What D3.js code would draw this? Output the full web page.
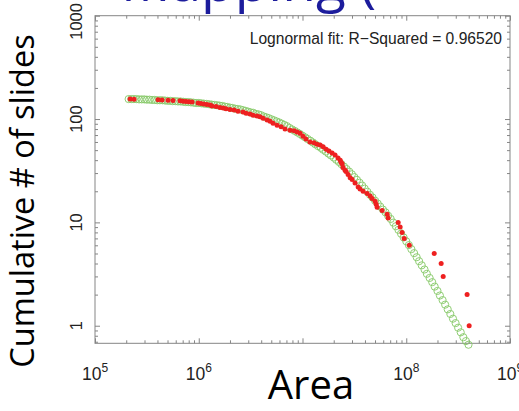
<!DOCTYPE html>
<html>
<head>
<meta charset="utf-8">
<script src="https://cdn.jsdelivr.net/npm/d3@7"></script>
<style>
  body { margin: 0; background: #fff; }
  svg { display: block; }
</style>
</head>
<body>
<script>
// red dots: observed slide areas and cumulative count
const slideArea = [
  2.18e5, 2.38e5, 4.05e5, 4.43e5, 5.06e5, 5.65e5, 6.60e5, 7.06e5, 7.54e5, 8.06e5,
  8.62e5, 9.85e5, 1.05e6, 1.12e6, 1.20e6, 1.29e6, 1.34e6, 1.47e6, 1.60e6, 1.72e6,
  1.83e6, 2.00e6, 2.19e6, 2.39e6, 2.67e6, 2.86e6, 3.12e6, 3.34e6, 3.65e6, 3.90e6,
  4.17e6, 4.56e6, 4.87e6, 5.20e6, 5.69e6, 6.22e6, 6.79e6, 7.59e6, 8.30e6, 8.87e6,
  9.48e6, 1.01e7, 1.08e7, 1.18e7, 1.29e7, 1.38e7, 1.48e7, 1.58e7, 1.69e7, 1.80e7,
  1.93e7, 2.06e7, 2.20e7, 2.31e7, 2.36e7, 2.41e7, 2.46e7, 2.57e7, 2.63e7, 2.75e7,
  2.88e7, 3.01e7, 3.21e7, 3.44e7, 3.59e7, 3.84e7, 4.20e7, 4.49e7, 4.69e7, 5.01e7,
  5.13e7, 5.24e7, 5.86e7, 6.55e7, 6.69e7, 8.36e7, 8.73e7, 9.12e7, 9.55e7, 1.07e8,
  1.86e8, 2.17e8, 2.27e8, 3.86e8, 4.04e8
];
const slideCount = [
  156, 155, 154, 153, 152, 151, 150, 149, 148, 147,
  146, 143, 141, 140, 138, 137, 134, 132, 129, 128,
  126, 124, 122, 119, 117, 114, 112, 109, 107, 105,
  102, 98, 95, 91, 87, 84, 80, 78, 77, 75,
  73, 68, 64, 60, 59, 57, 56, 54, 51, 49,
  47, 45, 42, 40, 38, 37, 34, 32, 31, 29,
  27, 26, 24, 22, 21, 20, 19, 18, 17, 16,
  15, 14, 13, 12, 11, 10, 9, 8, 7, 6,
  5, 4, 3, 2, 1
];

// green circles: lognormal fit
const fitArea = [
  2.11e5, 2.24e5, 2.37e5, 2.51e5, 2.66e5, 2.82e5, 2.99e5, 3.16e5, 3.35e5, 3.55e5,
  3.76e5, 3.98e5, 4.22e5, 4.47e5, 4.73e5, 5.01e5, 5.31e5, 5.62e5, 5.96e5, 6.31e5,
  6.68e5, 7.08e5, 7.50e5, 7.94e5, 8.41e5, 8.91e5, 9.44e5,
  1.00e6, 1.06e6, 1.12e6, 1.19e6, 1.26e6, 1.33e6, 1.41e6, 1.50e6, 1.58e6, 1.68e6,
  1.78e6, 1.88e6, 2.00e6, 2.11e6, 2.24e6, 2.37e6, 2.51e6, 2.66e6, 2.82e6, 2.99e6,
  3.16e6, 3.35e6, 3.55e6, 3.76e6, 3.98e6, 4.22e6, 4.47e6, 4.73e6, 5.01e6, 5.31e6,
  5.62e6, 5.96e6, 6.31e6, 6.68e6, 7.08e6, 7.50e6, 7.94e6, 8.41e6, 8.91e6, 9.44e6,
  1.00e7, 1.06e7, 1.12e7, 1.19e7, 1.26e7, 1.33e7, 1.41e7, 1.50e7, 1.58e7, 1.68e7,
  1.78e7, 1.88e7, 2.00e7, 2.11e7, 2.24e7, 2.37e7, 2.51e7, 2.66e7, 2.82e7, 2.99e7,
  3.16e7, 3.35e7, 3.55e7, 3.76e7, 3.98e7, 4.22e7, 4.47e7, 4.73e7, 5.01e7, 5.31e7,
  5.62e7, 5.96e7, 6.31e7, 6.68e7, 7.08e7, 7.50e7, 7.94e7, 8.41e7, 8.91e7, 9.44e7,
  1.00e8, 1.06e8, 1.12e8, 1.19e8, 1.26e8, 1.33e8, 1.41e8, 1.50e8, 1.58e8, 1.68e8,
  1.78e8, 1.88e8, 2.00e8, 2.11e8, 2.24e8, 2.37e8, 2.51e8, 2.66e8, 2.82e8, 2.99e8,
  3.16e8, 3.35e8, 3.55e8, 3.76e8, 3.98e8
];
const fitCount = [
  156, 156, 156, 156, 155, 155, 155, 154, 154, 153,
  153, 152, 152, 152, 151, 150, 150, 149, 149, 148,
  148, 147, 146, 146, 145, 144, 143,
  143, 142, 141, 140, 139, 138, 137, 136, 135, 134,
  132, 131, 129, 128, 126, 125, 124, 122, 120, 118,
  116, 115, 112, 111, 109, 106, 104, 102, 99.5, 97.2,
  94.9, 92.7, 90.2, 87.7, 85.3, 82.0, 79.3, 76.8, 74.2, 71.7,
  69.0, 66.5, 64.1, 61.7, 59.3, 57.0, 54.8, 52.7, 50.5, 48.4,
  46.3, 44.4, 42.4, 40.4, 38.5, 36.6, 34.7, 32.8, 31.0, 29.2,
  27.4, 25.8, 24.2, 22.7, 21.2, 19.8, 18.5, 17.4, 16.2, 15.2,
  14.2, 13.3, 12.5, 11.6, 10.8, 9.95, 9.18, 8.47, 7.78, 7.14,
  6.56, 6.03, 5.51, 5.04, 4.60, 4.21, 3.84, 3.50, 3.18, 2.90,
  2.64, 2.39, 2.17, 1.96, 1.77, 1.60, 1.44, 1.30, 1.17, 1.06,
  0.957, 0.863, 0.774, 0.71, 0.655
];

const xTicks = [1e5, 1e6, 1e7, 1e8, 1e9];
const xTickLabels = [['10', '5'], ['10', '6'], null, ['10', '8'], ['10', '9']]; // 10^7 sits under "Area"
const yTicks = [1, 10, 100, 1000];
const yTickLabels = ['1', '10', '100', '1000'];

const fitNote = 'Lognormal fit: R\u2212Squared = 0.96520';

const WIDTH = 519,
      HEIGHT = 411,
      LEFT = 95,
      RIGHT = 510,
      TOP = 15.7,
      BOTTOM = 343.3,
      AXIS_GRAY = '#858585';

const svg = d3.select('body').append('svg')
    .attr('width', WIDTH)
    .attr('height', HEIGHT);

const x = d3.scaleLog().domain([1e5, 1e9]).range([LEFT, RIGHT]);
const y = d3.scaleLog().domain([0.676, 1000]).range([BOTTOM, TOP]);

const isMajor = v => Math.abs(Math.log10(v) - Math.round(Math.log10(v))) < 1e-9;
const xMinor = x.ticks().filter(v => !isMajor(v));
const yMinor = y.ticks().filter(v => !isMajor(v));

// slide title, mostly cut off by the top of the window
svg.append('text')
    .attr('x', 121)
    .attr('y', 1)
    .attr('font-family', 'Open Sans, sans-serif')
    .attr('font-size', 55)
    .attr('fill', '#1c1c9c')
    .text('Mapping (');

// ticks on all four sides, pointing in
function tickSide(axis, tx, ty, values, size) {
    const g = svg.append('g')
        .attr('transform', `translate(${tx},${ty})`)
        .call(axis.tickValues(values).tickSize(-size).tickFormat(''));
    g.select('.domain').remove();
    g.selectAll('line').attr('stroke', AXIS_GRAY);
}
tickSide(d3.axisBottom(x), 0, BOTTOM, xTicks, 5);
tickSide(d3.axisBottom(x), 0, BOTTOM, xMinor, 3);
tickSide(d3.axisTop(x), 0, TOP, xTicks, 5);
tickSide(d3.axisTop(x), 0, TOP, xMinor, 3);
tickSide(d3.axisLeft(y), LEFT, 0, yTicks, 5);
tickSide(d3.axisLeft(y), LEFT, 0, yMinor, 3);
tickSide(d3.axisRight(y), RIGHT, 0, yTicks, 5);
tickSide(d3.axisRight(y), RIGHT, 0, yMinor, 3);

svg.append('rect')
    .attr('x', LEFT)
    .attr('y', TOP)
    .attr('width', RIGHT - LEFT)
    .attr('height', BOTTOM - TOP)
    .attr('fill', 'none')
    .attr('stroke', AXIS_GRAY)
    .attr('stroke-width', 1);

// fit curve
svg.append('g')
    .selectAll('circle')
    .data(fitArea)
    .enter()
    .append('circle')
    .attr('cx', d => x(d))
    .attr('cy', (d, i) => y(fitCount[i]))
    .attr('r', 3.6)
    .attr('fill', 'none')
    .attr('stroke', '#86c868')
    .attr('stroke-width', 0.9);

// data
svg.append('g')
    .selectAll('circle')
    .data(slideArea)
    .enter()
    .append('circle')
    .attr('cx', d => x(d))
    .attr('cy', (d, i) => y(slideCount[i]))
    .attr('r', 2.5)
    .attr('fill', '#ee2020');

// y tick labels, rotated
svg.append('g')
    .selectAll('text')
    .data(yTicks)
    .enter()
    .append('text')
    .attr('transform', (d, i) => {
        const half = yTickLabels[i].length * 4.6;
        const cy = Math.max(y(d), 3 + half);
        return `translate(82,${cy}) rotate(-90)`;
    })
    .attr('text-anchor', 'middle')
    .attr('font-family', 'Liberation Sans, Arial, sans-serif')
    .attr('font-size', 16.5)
    .attr('fill', '#222')
    .text((d, i) => yTickLabels[i]);

// x tick labels as 10^n
const xl = svg.append('g')
    .selectAll('text')
    .data(xTicks.filter((d, i) => xTickLabels[i]))
    .enter()
    .append('text')
    .attr('x', d => x(d))
    .attr('y', 380)
    .attr('text-anchor', 'middle')
    .attr('font-family', 'Liberation Sans, Arial, sans-serif')
    .attr('font-size', 17.5)
    .attr('fill', '#222');
xl.append('tspan').text(d => xTickLabels[xTicks.indexOf(d)][0]);
xl.append('tspan')
    .attr('dy', -8)
    .attr('font-size', 12)
    .text(d => xTickLabels[xTicks.indexOf(d)][1]);

svg.append('text')
    .attr('x', 502)
    .attr('y', 43.5)
    .attr('text-anchor', 'end')
    .attr('font-family', 'Liberation Sans, Arial, sans-serif')
    .attr('font-size', 15.6)
    .attr('fill', '#222')
    .text(fitNote);

// slide axis titles
svg.append('text')
    .attr('x', 311)
    .attr('y', 399)
    .attr('text-anchor', 'middle')
    .attr('font-family', 'Open Sans, sans-serif')
    .attr('font-size', 40)
    .attr('fill', '#000')
    .text('Area');

svg.append('text')
    .attr('transform', 'translate(34,201) rotate(-90)')
    .attr('text-anchor', 'middle')
    .attr('font-family', 'Open Sans, sans-serif')
    .attr('font-size', 32.5)
    .attr('fill', '#000')
    .text('Cumulative # of slides');
</script>
</body>
</html>
